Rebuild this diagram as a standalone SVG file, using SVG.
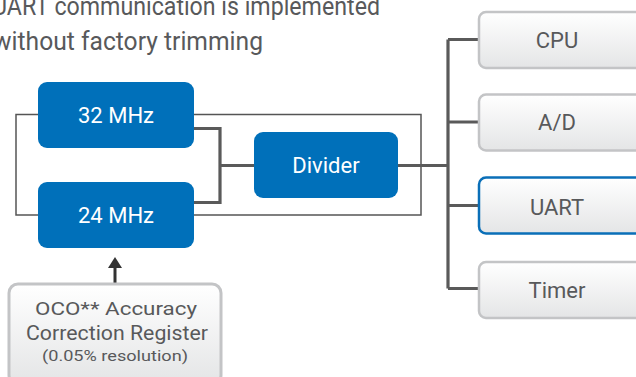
<svg xmlns="http://www.w3.org/2000/svg" width="636" height="377" viewBox="0 0 636 377">
<defs>
<linearGradient id="gg" x1="0" y1="0" x2="0" y2="1">
<stop offset="0" stop-color="#ffffff"/>
<stop offset="1" stop-color="#e4e5e6"/>
</linearGradient>
<marker id="ah" markerWidth="11" markerHeight="14" refX="6" refY="7" orient="auto" markerUnits="userSpaceOnUse">
<path d="M0,0 L11,7 L0,14 z" fill="#333"/>
</marker>
</defs>
<style>
text{font-family:Roboto,"Liberation Sans",sans-serif;text-anchor:middle}
.title{fill:#58595b;font-size:26px;text-anchor:start}
.blue rect{fill:#0070ba}
.blue text{fill:#ffffff;font-size:22px}
.gray rect{fill:url(#gg);stroke:#c3c4c6;stroke-width:2.5}
.gray text{fill:#58595b;font-size:22px}
.uart rect{stroke:#0a6fb8}
.thin{fill:none;stroke:#555;stroke-width:1.5}
.thick{fill:none;stroke:#5a5a5a;stroke-width:3.2}
</style>
<g id="title">
<text class="title" x="-8" y="15" textLength="388" lengthAdjust="spacingAndGlyphs">UART communication is implemented</text>
<text class="title" x="-7" y="50" textLength="270" lengthAdjust="spacingAndGlyphs">without factory trimming</text>
</g>
<g id="connectors">
<rect class="thin" x="16" y="114.5" width="405" height="100.5"/>
<path class="thick" d="M194,128.5 H220 V202.5 H194 M220,165.5 H254"/>
<path class="thick" d="M398,165.5 H448 M448,39.5 V288.5 M448,39.5 H479 M448,122 H479 M448,205.5 H479 M448,288.5 H479"/>
<line x1="115" y1="283" x2="115" y2="262" stroke="#333" stroke-width="3" marker-end="url(#ah)"/>
</g>
<g id="n32" class="blue">
<rect x="38" y="82" width="156" height="66" rx="9"/>
<text x="116" y="123">32 MHz</text>
</g>
<g id="n24" class="blue">
<rect x="38" y="182" width="156" height="66" rx="9"/>
<text x="116" y="223">24 MHz</text>
</g>
<g id="divider" class="blue">
<rect x="254" y="132" width="144" height="66" rx="9"/>
<text x="326" y="173">Divider</text>
</g>
<g id="cpu" class="gray">
<rect x="479" y="12" width="165" height="56" rx="7"/>
<text x="557" y="47.5">CPU</text>
</g>
<g id="ad" class="gray">
<rect x="479" y="94.5" width="165" height="56" rx="7"/>
<text x="557" y="130">A/D</text>
</g>
<g id="uart" class="gray uart">
<rect x="479" y="177.5" width="165" height="56" rx="7"/>
<text x="557" y="215">UART</text>
</g>
<g id="timer" class="gray">
<rect x="479" y="262" width="165" height="56" rx="7"/>
<text x="557" y="298">Timer</text>
</g>
<g id="oco" class="gray">
<rect x="9" y="284" width="212" height="100" rx="9" style="stroke-width:3"/>
<text x="116" y="315" style="font-size:19px" textLength="162" lengthAdjust="spacingAndGlyphs">OCO** Accuracy</text>
<text x="117" y="340" style="font-size:20px" textLength="182" lengthAdjust="spacingAndGlyphs">Correction Register</text>
<text x="115" y="361" style="font-size:15px" textLength="146" lengthAdjust="spacingAndGlyphs">(0.05% resolution)</text>
</g>
</svg>
